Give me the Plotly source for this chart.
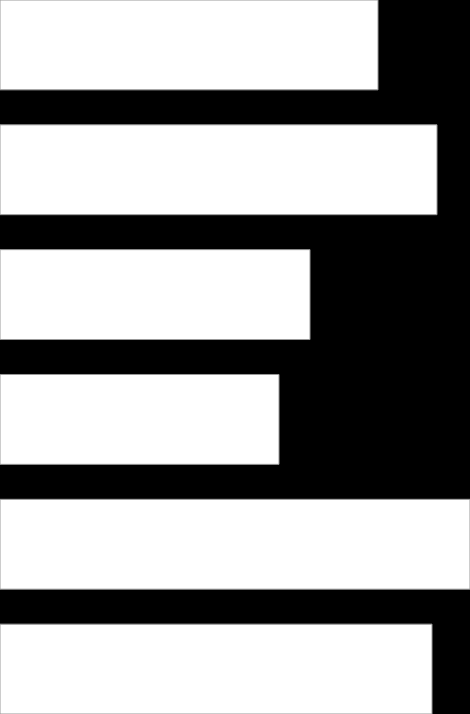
import plotly.graph_objects as go

# bar lengths, top to bottom
positions = [0, 1, 2, 3, 4, 5]
values = [378, 437, 310, 279, 470, 432]
x_max = 470

fig = go.Figure(go.Bar(
    x=values,
    y=positions,
    orientation='h',
    marker={'color': 'white', 'line': {'color': '#999999', 'width': 1}},
))

fig.update_layout(
    width=470,
    height=714,
    margin={'l': 0, 'r': 0, 't': 0, 'b': 0},
    paper_bgcolor='black',
    plot_bgcolor='black',
    bargap=0.28,
    showlegend=False,
    xaxis={'range': [0, x_max], 'visible': False, 'fixedrange': True},
    yaxis={'range': [5.36, -0.36], 'visible': False, 'fixedrange': True},
)

# drop the page's default body margin so the chart fills the window
fig.write_html("out.html", config={'displayModeBar': False},
               post_script="document.body.style.margin='0';"
                           "document.body.style.background='black';")
